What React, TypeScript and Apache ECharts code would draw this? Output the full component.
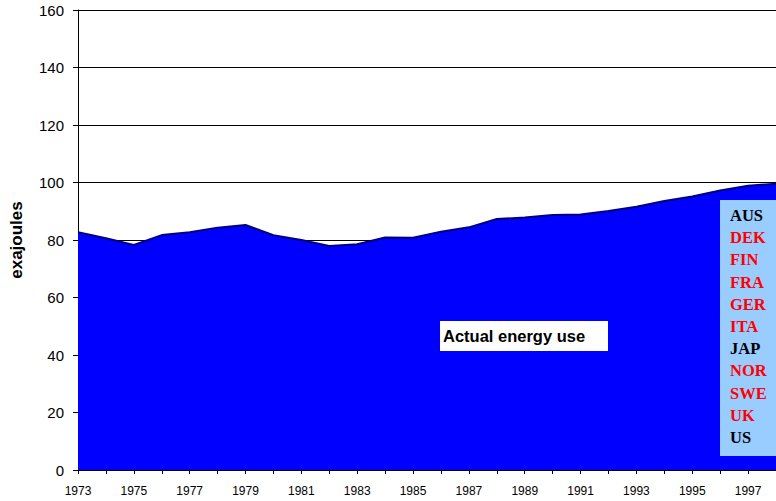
import React, { useEffect, useRef } from "react";
import * as echarts from "echarts";

const years = [
  "1973", "1974", "1975", "1976", "1977", "1978", "1979", "1980", "1981",
  "1982", "1983", "1984", "1985", "1986", "1987", "1988", "1989", "1990",
  "1991", "1992", "1993", "1994", "1995", "1996", "1997", "1998",
];
const energyUse = [
  82.7, 80.6, 78.3, 81.7, 82.7, 84.3, 85.2, 81.7, 80.0, 77.9, 78.5, 80.9,
  80.8, 82.9, 84.4, 87.3, 87.8, 88.7, 88.9, 90.1, 91.6, 93.6, 95.1, 97.2,
  98.9, 99.6,
];
const yTicks = { min: 0, max: 160, interval: 20 };
const countries = ["AUS", "DEK", "FIN", "FRA", "GER", "ITA", "JAP", "NOR", "SWE", "UK", "US"];
const countryColors = ["#000000", "#ff0000", "#ff0000", "#ff0000", "#ff0000", "#ff0000", "#000000", "#ff0000", "#ff0000", "#ff0000", "#000000"];
const seriesLabel = "Actual energy use";
const yAxisTitle = "exajoules";

export default function App() {
  const ref = useRef<HTMLDivElement>(null);
  useEffect(() => {
    if (!ref.current) return;
    const chart = echarts.init(ref.current, undefined, { renderer: "svg" });
    const countryTexts = countries.map((c, i) => ({
      type: "text",
      left: 730,
      top: 207 + i * 22.2,
      style: {
        text: c,
        fill: countryColors[i],
        font: "bold 16.5px 'Liberation Serif', 'Times New Roman', serif",
      },
      z: 101,
    }));
    chart.setOption({
      animation: false,
      backgroundColor: "#ffffff",
      grid: { left: 77, top: 10, bottom: 31, right: -16, containLabel: false },
      xAxis: {
        type: "category",
        data: years,
        boundaryGap: false,
        axisLine: { show: true, lineStyle: { color: "#000", width: 1 } },
        axisTick: { show: true, interval: 0, length: 4, lineStyle: { color: "#000" } },
        axisLabel: {
          interval: 1,
          color: "#000",
          fontSize: 12,
          fontFamily: "'Liberation Sans', Arial, sans-serif",
          margin: 15,
        },
        splitLine: { show: false },
      },
      yAxis: {
        type: "value",
        min: yTicks.min,
        max: yTicks.max,
        interval: yTicks.interval,
        name: yAxisTitle,
        nameLocation: "middle",
        nameGap: 53,
        nameRotate: 90,
        nameTextStyle: {
          color: "#000",
          fontSize: 17,
          fontWeight: "bold",
          fontFamily: "'Liberation Sans', Arial, sans-serif",
        },
        axisLine: { show: true, lineStyle: { color: "#000", width: 1 } },
        axisTick: { show: true, length: 5, lineStyle: { color: "#000" } },
        axisLabel: {
          color: "#000",
          fontSize: 15,
          fontFamily: "'Liberation Sans', Arial, sans-serif",
          margin: 14,
        },
        splitLine: { show: true, lineStyle: { color: "#000", width: 1 } },
      },
      series: [
        {
          type: "line",
          data: energyUse,
          symbol: "none",
          lineStyle: { color: "#000080", width: 2 },
          areaStyle: { color: "#0000ff", opacity: 1 },
          z: 3,
        },
      ],
      graphic: [
        {
          type: "rect",
          shape: { x: 440, y: 321, width: 168, height: 30 },
          style: { fill: "#ffffff" },
          z: 100,
        },
        {
          type: "text",
          left: 443,
          top: 327,
          style: {
            text: seriesLabel,
            fill: "#000",
            font: "bold 16.5px 'Liberation Sans', Arial, sans-serif",
          },
          z: 101,
        },
        {
          type: "rect",
          shape: { x: 720, y: 200, width: 70, height: 256 },
          style: { fill: "#99ccff" },
          z: 100,
        },
        ...countryTexts,
      ],
    });
    return () => chart.dispose();
  }, []);
  return <div ref={ref} style={{ width: 776, height: 501, position: "absolute", left: 0, top: 0 }} />;
}
